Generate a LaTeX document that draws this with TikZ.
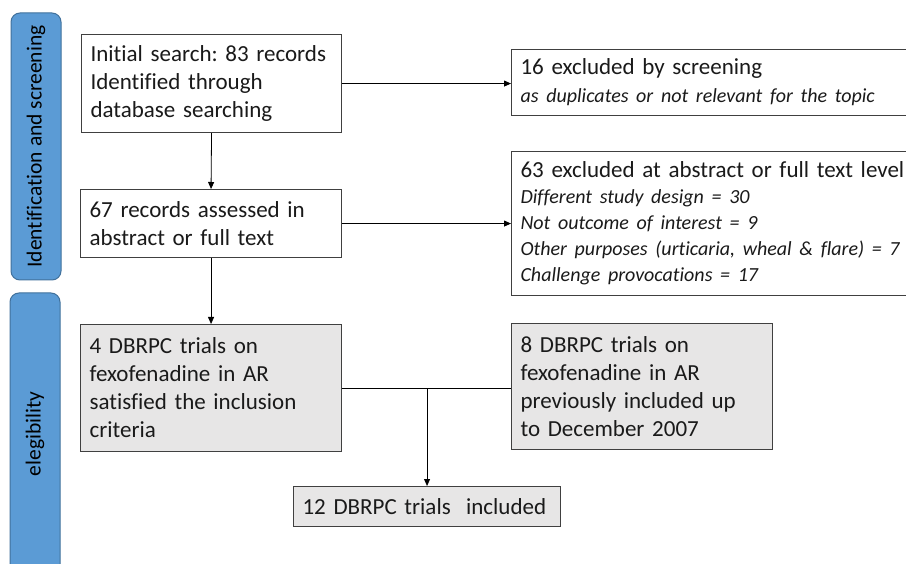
\documentclass[tikz,border=0pt]{standalone}
\usepackage{fontspec}
\setmainfont{Carlito}[Ligatures=NoCommon]
\frenchspacing
\usetikzlibrary{arrows.meta}
\definecolor{barfill}{HTML}{5B9BD5}
\definecolor{barline}{HTML}{41719C}
\definecolor{boxline}{HTML}{404040}
\definecolor{grayfill}{HTML}{E7E6E6}
\definecolor{txt}{HTML}{1A1A1A}
\newcommand\smit{\fontsize{20}{26}\selectfont\itshape}
\tikzset{
  box/.style={draw=boxline, line width=1.1pt, inner xsep=9pt, inner ysep=0pt, align=left,
    anchor=north west, text=txt, font=\fontsize{23}{28}\selectfont},
  graybox/.style={box, fill=grayfill},
  bar/.style={draw=barline, line width=1pt, fill=barfill, rounded corners=9pt, rotate=90,
    minimum height=50pt, inner sep=0pt, text=black, font=\fontsize{21.5}{24}\selectfont},
  arr/.style={draw=black, line width=0.8pt, -{Triangle[length=7pt,width=6pt]}},
  ln/.style={draw=black, line width=0.8pt}
}
\begin{document}
\begin{tikzpicture}[x=1pt,y=-1pt]
\useasboundingbox (0,0) rectangle (906,564);
\clip (0,0) rectangle (906,564);
\fill[white] (0,0) rectangle (906,564);
% side bars
\node[bar, minimum width=267pt] (bar1) at (36,146.5) {Identification and screening};
\node[bar, minimum width=282pt] (bar2) at (35,434) {elegibility};
% boxes
\node[box, text width=381pt, minimum height=98pt, text width=242pt] (b1) at (81,34)
  {Initial search: 83 records\\Identified through\\database searching};
\node[box, text width=384pt, minimum height=66pt] (b16) at (511,49)
  {16 excluded by screening\\{\smit as duplicates or not relevant for the topic}};
\node[box, text width=243pt, minimum height=68pt] (b67) at (80,189)
  {67 records assessed in\\abstract or full text};
\node[box, text width=400pt, minimum height=144pt, font=\fontsize{23}{26}\selectfont] (b63) at (511,151)
  {63 excluded at abstract or full text level\\
   {\smit Different study design = 30}\\
   {\smit Not outcome of interest = 9}\\
   {\smit Other purposes (urticaria, wheal \& flare) = 7}\\
   {\smit Challenge provocations = 17}};
\node[graybox, text width=243pt, minimum height=127pt] (b4) at (80,324)
  {4 DBRPC trials on\\fexofenadine in AR\\satisfied the inclusion\\criteria};
\node[graybox, text width=243pt, minimum height=126pt] (b8) at (511,323)
  {8 DBRPC trials on\\fexofenadine in AR\\previously included up\\to December 2007};
\node[graybox, text width=249pt, minimum height=40pt] (b12) at (293,486)
  {12 DBRPC trials\ \ included};
% connectors
\draw[arr] (b1.east) -- (b1.east -| b16.west);
\draw[arr] (b1.south) -- (b67.north);
\draw[arr] (b67.east) -- (b67.east -| b63.west);
\draw[arr] (b67.south) -- (b4.north);
\draw[ln] (b4.east) -- (b4.east -| b8.west);
\draw[arr] (b4.east -| b12.north) -- (b12.north);
\end{tikzpicture}
\end{document}
